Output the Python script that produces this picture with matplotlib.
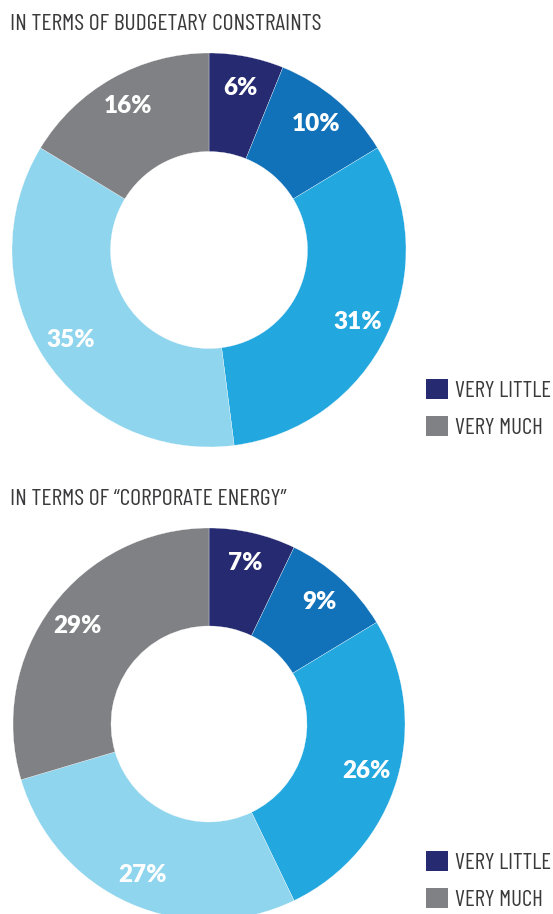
import matplotlib.pyplot as plt
from matplotlib.patches import Patch

# Survey shares for each question (percent)
segments = ["VERY LITTLE", "LITTLE", "SOMEWHAT", "MUCH", "VERY MUCH"]
budget_pct = [6, 10, 31, 35, 16]
energy_pct = [7, 9, 26, 27, 29]
titles = ["IN TERMS OF BUDGETARY CONSTRAINTS", "IN TERMS OF \u201cCORPORATE ENERGY\u201d"]
legend_labels = ["VERY LITTLE", "VERY MUCH"]

colors = ["#262a70", "#1172b9", "#22a7df", "#8fd5ee", "#808184"]
text_font = ["Barlow Condensed", "DejaVu Sans"]
text_color = "#3a3a3c"

fig = plt.figure(figsize=(5.53, 9.14), dpi=100)
W, H = 553, 914


def donut(values, cx, cy, r):
    ax = fig.add_axes([(cx - r) / W, 1 - (cy + r) / H, 2 * r / W, 2 * r / H])
    wedges, _, autotexts = ax.pie(values, colors=colors, startangle=90, counterclock=False,
                                  radius=1.0, autopct=lambda p: "",
                                  pctdistance=0.84,
                                  wedgeprops=dict(width=0.5, edgecolor="white", linewidth=0.2))
    for t, v in zip(autotexts, values):
        t.set_text(f"{v}%")
        t.set_color("white")
        t.set_fontsize(17.5)
        t.set_fontweight("heavy")
        t.set_family(["Lato", "DejaVu Sans"])
    ax.set_xlim(-1, 1)
    ax.set_ylim(-1, 1)
    ax.set_aspect("equal")
    ax.axis("off")
    return ax


donut(budget_pct, 209, 250, 197)
donut(energy_pct, 209, 724, 196)

fig.text(10 / W, 1 - 25 / H, titles[0], family=text_font, weight="normal", fontsize=17,
         color=text_color, va="center")
fig.text(10 / W, 1 - 500 / H, titles[1], family=text_font, weight="normal", fontsize=17,
         color=text_color, va="center")

handles = [Patch(facecolor=colors[0]), Patch(facecolor=colors[4])]
for y in [379, 851]:
    fig.legend(handles, legend_labels, loc="upper left", bbox_to_anchor=(426 / W, 1 - y / H),
               frameon=False, handlelength=0.97, handleheight=0.97, handletextpad=0.3,
               labelspacing=0.62, borderpad=0, borderaxespad=0,
               prop=dict(family=text_font, weight="normal", size=16.5), labelcolor=text_color)

fig.savefig("out.png", dpi=100)
